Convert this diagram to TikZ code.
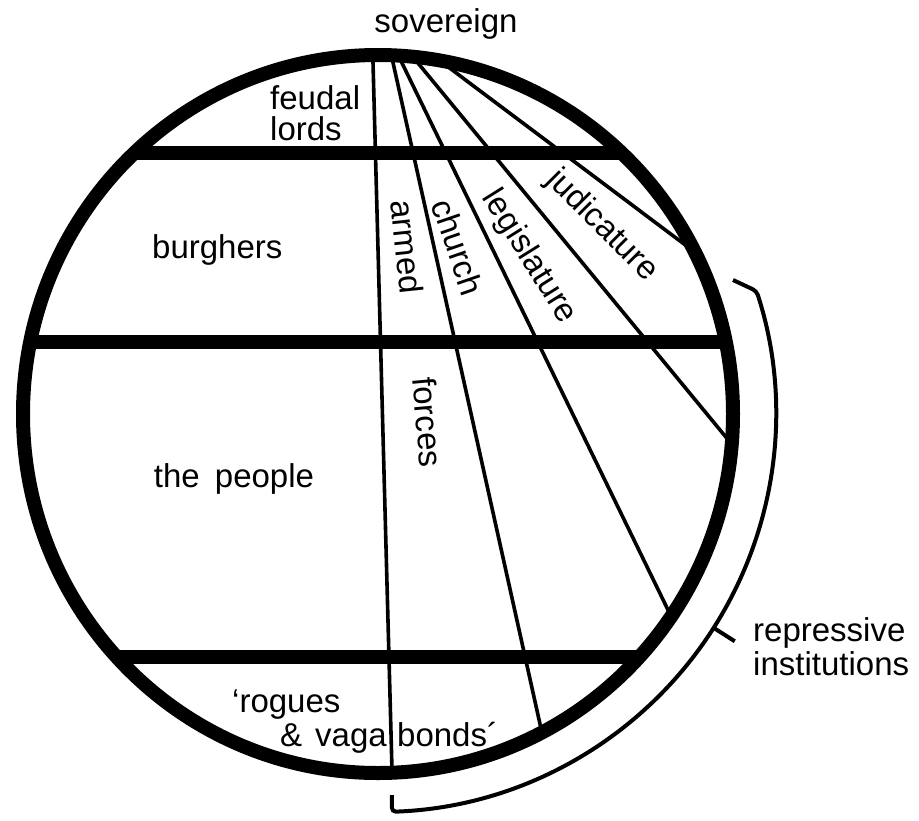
\documentclass[tikz,border=0pt]{standalone}
\usepackage{fontspec}
\setmainfont{Liberation Sans}
\begin{document}
\begin{tikzpicture}[x=1pt,y=1pt,
  lbl/.style={inner sep=0pt, font=\fontsize{33}{35}\selectfont},
  band/.style={line width=14pt},
  rim/.style={line width=14pt},
  fan/.style={line width=3.6pt},
  bracket/.style={line width=4pt, rounded corners=4pt}]
\useasboundingbox (0,0) rectangle (919,-820);
\coordinate (C) at (378,-414);
\begin{scope}
  \clip (C) ellipse [x radius=355pt, y radius=359pt];
  \foreach \yy in {153,342,657} \draw[band] (0,-\yy) -- (919,-\yy);
  \draw[fan] (372.4,-40) -- (392.8,-800);
  \draw[fan] (388,-40) -- (548,-760);
  \draw[fan] (390.8,-40) -- (687.5,-650);
  \draw[fan] (399,-40) -- (753,-470);
  \draw[fan] (412.3,-40) -- (732,-280);
\end{scope}
\draw[rim] (C) ellipse [x radius=355pt, y radius=359pt];
% bracket
\coordinate (b0) at (392,-795);
\coordinate (b1) at ([shift={(-88:398pt)}]C);
\coordinate (b2) at (733,-280);
\draw[bracket] (b0) -- (b1) arc[start angle=-88, end angle=18, radius=398pt] -- (b2);
\coordinate (t0) at ([shift={(-32.5:398pt)}]C);
\coordinate (t1) at ([shift={(-32.5:423pt)}]C);
\draw[line width=4pt] (t0) -- (t1);
% labels
\node[lbl, anchor=base] (sov) at (446,-32) {sovereign};
\node[lbl, anchor=base west] (feu) at (270,-109) {feudal};
\node[lbl, anchor=base west] (lor) at (270,-140) {lords};
\node[lbl, anchor=base west] (bur) at (152,-258) {burghers};
\node[lbl, anchor=base] (peo) at (234,-487) {the\hspace{6pt} people};
\node[lbl, anchor=base west] (rog) at (232,-712) {`rogues};
\node[lbl, anchor=base east] (vag) at (387,-746) {\&\hspace{4pt} vaga};
\node[lbl, anchor=base west] (bon) at (397,-746) {bonds´};
\node[lbl, anchor=base west] (rep) at (753,-641) {repressive};
\node[lbl, anchor=base west] (ins) at (753,-675) {institutions};
\node[lbl, rotate=-84] (arm) at (407,-247) {armed};
\node[lbl, rotate=-85] (for) at (428,-422) {forces};
\node[lbl, rotate=-71] (chu) at (458,-247) {church};
\node[lbl, rotate=-58] (leg) at (529,-257) {legislature};
\node[lbl, rotate=-45] (jud) at (602,-226) {judicature};
\end{tikzpicture}
\end{document}
